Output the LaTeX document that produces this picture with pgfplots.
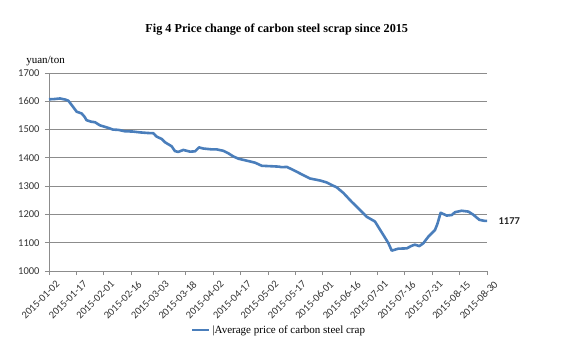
\documentclass[border=0pt]{standalone}
\usepackage{fontspec}
\setmainfont{Liberation Serif}
\newfontfamily\calib{Carlito}
\usepackage{pgfplots}
\pgfplotsset{compat=1.18}
\definecolor{lineblue}{RGB}{74,126,187}
\definecolor{gridgray}{RGB}{140,140,140}
\begin{document}
\begin{tikzpicture}[x=1pt,y=1pt]
\path[use as bounding box] (0,0) rectangle (575,-353);
\begin{axis}[
  at={(49pt,-271pt)}, anchor=south west,
  scale only axis, width=438pt, height=198pt,
  xmin=0, xmax=240, ymin=1000, ymax=1700,
  xtick={0,15,...,240},
  xticklabels={2015-01-02,2015-01-17,2015-02-01,2015-02-16,2015-03-03,2015-03-18,2015-04-02,2015-04-17,2015-05-02,2015-05-17,2015-06-01,2015-06-16,2015-07-01,2015-07-16,2015-07-31,2015-08-15,2015-08-30},
  ytick={1000,1100,...,1700},
  yticklabel style={/pgf/number format/1000 sep={}, font=\calib\fontsize{10.5}{12}\selectfont, text=black!80, xshift=-2pt},
  /pgf/number format/assume math mode=true,
  xticklabel style={rotate=45, anchor=north east, font=\calib\fontsize{10.5}{12}\selectfont, text=black!80, inner sep=1pt, xshift=2pt, yshift=-7pt},
  ymajorgrids, major grid style={gridgray, line width=0.8pt},
  axis x line*=bottom, axis y line*=left,
  axis line style={gridgray, line width=0.8pt, -},
  tick style={gridgray, line width=0.8pt},
  tick align=outside, major tick length=4pt,
  title={\bfseries Fig 4 Price change of carbon steel scrap since 2015},
  title style={at={(0.52,1.19)}, anchor=center, font=\fontsize{12.2}{14}\selectfont},
  ylabel={yuan/ton}, ylabel style={rotate=-90, at={(rel axis cs:-0.008,1.058)}, anchor=center, font=\fontsize{11}{13}\selectfont},
  legend style={at={(0.525,-0.298)}, anchor=center, draw=none, font=\fontsize{11}{13}\selectfont, legend cell align=left},
  legend image post style={line width=2.5pt},
  clip=false,
]
\addplot[lineblue, line width=2.6pt, line join=round] coordinates {
(0,1607)(3,1608)(6,1610)(9,1606)(10.6,1602)(12.4,1587)(15.2,1563)(17.9,1557)(19.5,1545)(20.6,1533)
(23,1528)(25.2,1526)(27.9,1515)(32.5,1506)(35,1500)(38,1499)(41.6,1494)(46,1493)(49.9,1490)(54,1488)
(57.2,1487)(59,1475)(61.7,1467)(63.6,1455)(67.2,1441)(69,1424)(70.8,1421)(73.6,1428)(77.3,1422)(80,1423)
(82.2,1437)(84.6,1433)(89.1,1430)(91.8,1430)(95.5,1425)(98.3,1416)(101,1405)(103.8,1397)(108.4,1390)(112.9,1383)
(116.6,1372)(123,1370)(126,1369)(127.5,1367)(130.3,1368)(133.9,1357)(137.5,1345)(139.3,1339)(143,1327)(148.5,1320)
(152.2,1313)(154.9,1304)(157.6,1296)(161.3,1276)(165.8,1245)(170.4,1216)(174,1192)(178.6,1175)(181.4,1146)(184.1,1118)
(185.9,1099)(187.8,1072)(191.4,1079)(196,1080)(198.7,1089)(200.5,1093)(202.9,1088)(205.1,1098)(207.8,1121)(211.5,1145)
(212.8,1166)(214.6,1206)(217.9,1196)(220.7,1198)(222.5,1208)(226.1,1213)(229.8,1210)(232.5,1199)(235.8,1181)(238.9,1177)
(240,1177)
} node[pos=1, right=7pt, font=\calib\bfseries\fontsize{10.5}{12}\selectfont, text=black!85] {1177};
\addlegendentry{|Average price of carbon steel crap}
\end{axis}
\end{tikzpicture}
\end{document}
